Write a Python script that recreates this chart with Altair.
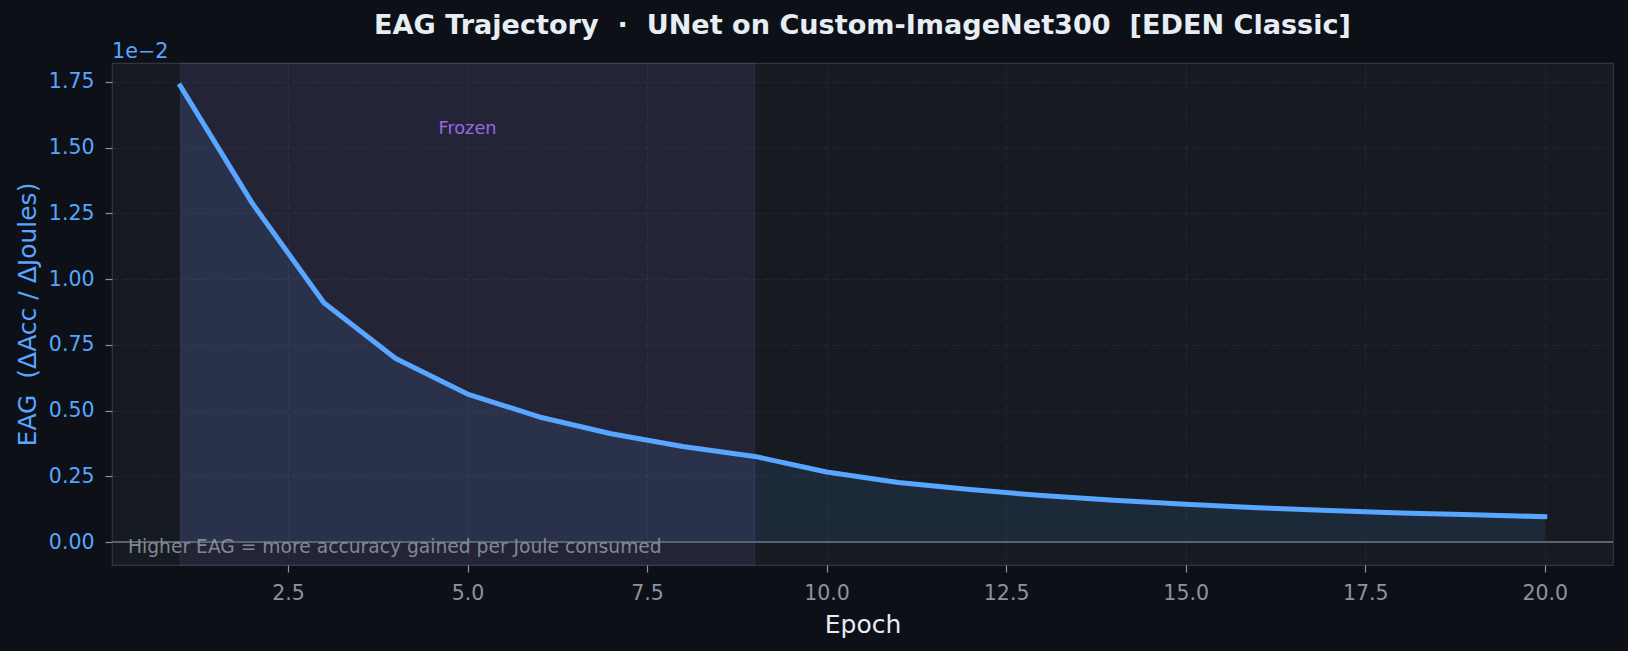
import altair as alt
import pandas as pd
import jinja2

# ---------------- data ----------------
epochs = list(range(1, 21))
eag = [1.735, 1.290, 0.910, 0.698, 0.563, 0.476, 0.412, 0.364, 0.326, 0.267,
       0.227, 0.200, 0.177, 0.159, 0.144, 0.131, 0.120, 0.111, 0.104, 0.097]
eag = [v * 1e-2 for v in eag]

frozen_start = [1]
frozen_end = [9]
frozen_label = ["Frozen"]
frozen_label_x = [5]
frozen_label_y = [1.553e-2]

x_ticks = [2.5, 5.0, 7.5, 10.0, 12.5, 15.0, 17.5, 20.0]
y_ticks = [0.0, 0.25e-2, 0.50e-2, 0.75e-2, 1.00e-2, 1.25e-2, 1.50e-2, 1.75e-2]

NB = "\u00a0"
title_text = "EAG Trajectory " + NB + "\u00b7" + NB + " UNet on Custom-ImageNet300 " + NB + "[EDEN Classic]"
x_title = "Epoch"
y_title = "EAG " + NB + "(\u0394Acc / \u0394Joules)"
note_text = "Higher EAG = more accuracy gained per Joule consumed"
offset_text = "1e\u22122"

df = pd.DataFrame({"epoch": epochs, "eag": eag})
frozen_df = pd.DataFrame({"start": frozen_start, "end": frozen_end})
label_df = pd.DataFrame({"x": frozen_label_x, "y": frozen_label_y, "t": frozen_label})

# ---------------- styling ----------------
W, H = 1501, 502
BLUE = "#58a6ff"
PURPLE = "#a371f7"
GRAY = "#8b949e"
FONT = "DejaVu Sans"

xs = alt.Scale(domain=[0.05, 20.95], nice=False, zero=False)
ys = alt.Scale(domain=[-0.000868, 0.018218], nice=False, zero=False)

x_axis = alt.Axis(values=x_ticks, format=".1f", title=x_title,
                  labelColor=GRAY, titleColor="#e6edf3")
y_axis = alt.Axis(values=y_ticks, labelExpr="format(datum.value*100, '.2f')",
                  title=y_title, labelColor=BLUE, titleColor=BLUE)

frozen = alt.Chart(frozen_df).mark_rect(
    fill=PURPLE, fillOpacity=0.1, stroke=PURPLE, strokeOpacity=0.12, strokeWidth=1
).encode(
    x=alt.X("start:Q", scale=xs, axis=x_axis),
    x2="end:Q",
    y=alt.value(0),
    y2=alt.value(H),
)

area = alt.Chart(df).mark_area(color=BLUE, opacity=0.1).encode(
    x=alt.X("epoch:Q", scale=xs, axis=x_axis),
    y=alt.Y("eag:Q", scale=ys, axis=y_axis),
    y2=alt.datum(0),
)

zero = alt.Chart(df).mark_rule(color="#5a636f", strokeWidth=1.8).encode(
    y=alt.datum(0)
)

line = alt.Chart(df).mark_line(
    color=BLUE, strokeWidth=5, strokeCap="square", strokeJoin="round"
).encode(
    x=alt.X("epoch:Q", scale=xs, axis=x_axis),
    y=alt.Y("eag:Q", scale=ys, axis=y_axis),
)

flabel = alt.Chart(label_df).mark_text(
    color=PURPLE, opacity=0.9, font=FONT, fontSize=17.7, align="center", baseline="alphabetic"
).encode(
    x=alt.X("x:Q", scale=xs),
    y=alt.Y("y:Q", scale=ys),
    text="t:N",
)

note = alt.Chart(pd.DataFrame({"t": [note_text]})).mark_text(
    color=GRAY, opacity=0.9, font=FONT, fontSize=18.7, align="left", baseline="alphabetic"
).encode(x=alt.value(16), y=alt.value(H - 12), text="t:N")

offset = alt.Chart(pd.DataFrame({"t": [offset_text]})).mark_text(
    color=BLUE, font=FONT, fontSize=20.7, align="left", baseline="alphabetic"
).encode(x=alt.value(0), y=alt.value(-5), text="t:N")

title = alt.Chart(pd.DataFrame({"t": [title_text]})).mark_text(
    color="#e6edf3", font=FONT, fontSize=27.1, fontWeight="bold",
    align="center", baseline="alphabetic"
).encode(x=alt.value(W / 2), y=alt.value(-29), text="t:N")

chart = alt.layer(frozen, area, zero, line, flabel, note, offset, title).properties(
    width=W, height=H,
    autosize=alt.AutoSizeParams(type="none"),
    padding={"left": 104, "top": 55, "right": 7, "bottom": 78},
    background="#0d1117",
).configure_view(
    fill="#161b22", stroke="#30363d", strokeWidth=1.2
).configure_axis(
    domain=False,
    grid=True, gridColor="#30363d", gridOpacity=0.45, gridDash=[6, 4], gridWidth=1,
    ticks=True, tickColor=GRAY, tickSize=7, tickWidth=1.2,
    labelFont=FONT, labelFontSize=20.5, labelPadding=11,
    titleFont=FONT, titleFontSize=25, titleFontWeight="normal",
).configure_axisX(titlePadding=9).configure_axisY(titlePadding=8)

TEMPLATE = jinja2.Template("""<!DOCTYPE html>
<html>
<head>
<meta charset="utf-8">
<style>
html, body { background: #0d1117; overflow: hidden; }
body { margin: 8px; }
</style>
<script type="text/javascript" src="{{ base_url }}/vega@{{ vega_version }}"></script>
<script type="text/javascript" src="{{ base_url }}/vega-lite@{{ vegalite_version }}"></script>
<script type="text/javascript" src="{{ base_url }}/vega-embed@{{ vegaembed_version }}"></script>
</head>
<body>
<div id="{{ output_div }}"></div>
<script type="text/javascript">
  (function() {
    var spec = {{ spec }};
    var opt = {{ embed_options }};
    vegaEmbed("#{{ output_div }}", spec, opt).catch(function(err) {
      document.getElementById("{{ output_div }}").innerHTML = "<pre>" + err + "</pre>";
    });
  })();
</script>
</body>
</html>
""")

chart.save("out.html", embed_options={"renderer": "svg", "actions": False}, template=TEMPLATE)
